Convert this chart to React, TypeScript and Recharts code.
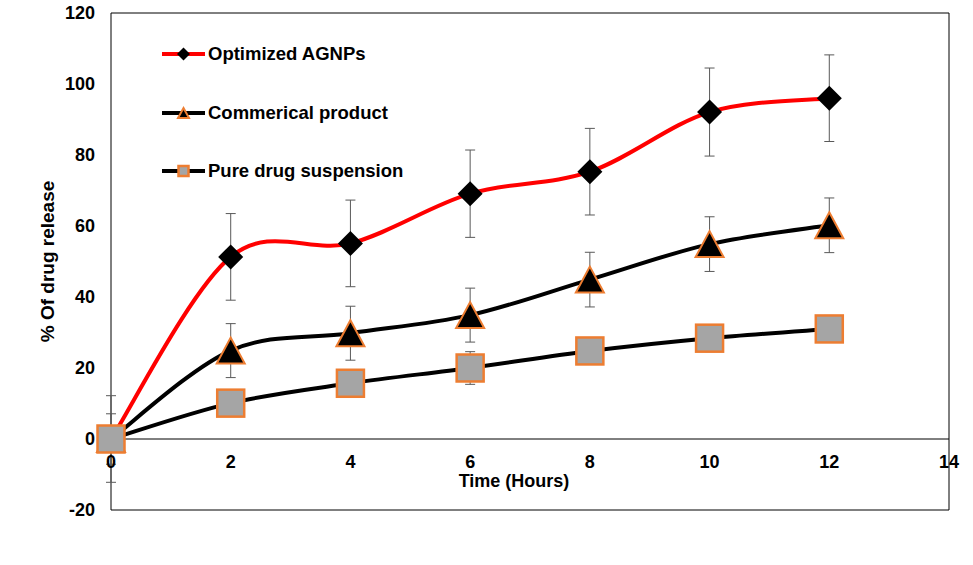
import React from 'react';
import {
  LineChart,
  Line,
  XAxis,
  YAxis,
  ErrorBar,
  Legend,
  ReferenceLine,
  ReferenceArea,
} from 'recharts';

const hours = [0, 2, 4, 6, 8, 10, 12];
const optimized = [0, 51.3, 55.1, 69.1, 75.3, 92.1, 96.0];
const optimizedErr = [12.2, 12.2, 12.2, 12.3, 12.2, 12.4, 12.2];
const commercial = [0, 24.9, 29.8, 34.9, 44.9, 54.9, 60.2];
const commercialErr = [7.1, 7.6, 7.6, 7.6, 7.7, 7.7, 7.7];
const pure = [0, 10.1, 15.7, 20.0, 24.8, 28.4, 31.0];
const pureErr = [3, 3.5, 3.8, 4.6, 3.5, 3.8, 3.8];

const xTicks = [0, 2, 4, 6, 8, 10, 12, 14];
const yTicks = [-20, 0, 20, 40, 60, 80, 100, 120];
const legendOrder = ['opt', 'com', 'pure'];

const FONT = '"Liberation Sans", Arial, sans-serif';
const ORANGE = '#ED7D31';

const data = hours.map((h, i) => ({
  hour: h,
  opt: optimized[i],
  optErr: optimizedErr[i],
  com: commercial[i],
  comErr: commercialErr[i],
  pure: pure[i],
  pureErr: pureErr[i],
}));

// excel style smoothed line (catmull-rom as bezier)
const excelSmooth = (context: any) => {
  let pts: number[][] = [];
  return {
    areaStart() {},
    areaEnd() {},
    lineStart() {
      pts = [];
    },
    point(x: number, y: number) {
      pts.push([+x, +y]);
    },
    lineEnd() {
      if (!pts.length) return;
      context.moveTo(pts[0][0], pts[0][1]);
      for (let i = 0; i < pts.length - 1; i++) {
        const p0 = pts[i - 1] || pts[i];
        const p1 = pts[i];
        const p2 = pts[i + 1];
        const p3 = pts[i + 2] || p2;
        context.bezierCurveTo(
          p1[0] + (p2[0] - p0[0]) / 6,
          p1[1] + (p2[1] - p0[1]) / 6,
          p2[0] - (p3[0] - p1[0]) / 6,
          p2[1] - (p3[1] - p1[1]) / 6,
          p2[0],
          p2[1]
        );
      }
    },
  };
};

const Diamond = ({ cx, cy, r }: { cx: number; cy: number; r: number }) => (
  <polygon points={`${cx},${cy - r} ${cx + r},${cy} ${cx},${cy + r} ${cx - r},${cy}`} fill="#000" />
);

const Triangle = ({ cx, cy, w, h }: { cx: number; cy: number; w: number; h: number }) => (
  <polygon
    points={`${cx},${cy - h / 2} ${cx + w / 2},${cy + h / 2} ${cx - w / 2},${cy + h / 2}`}
    fill="#000"
    stroke={ORANGE}
    strokeWidth={2}
  />
);

const Square = ({ cx, cy, s }: { cx: number; cy: number; s: number }) => (
  <rect x={cx - s / 2} y={cy - s / 2} width={s} height={s} fill="#A5A5A5" stroke={ORANGE} strokeWidth={2.5} />
);

const markers: Record<string, (cx: number, cy: number) => React.ReactNode> = {
  opt: (cx, cy) => <Diamond cx={cx} cy={cy} r={6.5} />,
  com: (cx, cy) => <Triangle cx={cx} cy={cy} w={11} h={10} />,
  pure: (cx, cy) => <Square cx={cx} cy={cy} s={10} />,
};

const lineColors: Record<string, string> = { opt: '#FF0000', com: '#000', pure: '#000' };

const renderLegend = (props: any) => {
  const payload = [...(props.payload || [])].sort(
    (a: any, b: any) => legendOrder.indexOf(a.dataKey) - legendOrder.indexOf(b.dataKey)
  );
  return (
    <div>
      {payload.map((entry: any) => (
        <div
          key={entry.dataKey}
          style={{ height: 58.5, display: 'flex', alignItems: 'center', fontFamily: FONT, fontWeight: 'bold', fontSize: 18.5 }}
        >
          <svg width={43} height={30} style={{ marginRight: 3 }}>
            <line x1={0} y1={15} x2={43} y2={15} stroke={lineColors[entry.dataKey]} strokeWidth={4} />
            {markers[entry.dataKey](21.5, 15)}
          </svg>
          <span>{entry.value}</span>
        </div>
      ))}
    </div>
  );
};

const App: React.FC = () => {
  const tickStyle = { fill: '#000', fontSize: 18, fontWeight: 'bold', fontFamily: FONT };
  return (
    <div style={{ position: 'absolute', left: 0, top: 0, width: 973, height: 565 }}>
      <LineChart width={973} height={565} data={data} margin={{ top: 13, right: 24, left: 0, bottom: 25 }}>
        <XAxis
          type="number"
          dataKey="hour"
          domain={[0, 14]}
          ticks={xTicks}
          axisLine={false}
          tickLine={false}
          tickSize={0}
          tickMargin={0}
          height={30}
          interval={0}
          tick={{ ...tickStyle, dy: -55 }}
          label={{ value: 'Time (Hours)', position: 'center', dx: -16, dy: -44, style: { ...tickStyle } }}
        />
        <YAxis
          type="number"
          domain={[-20, 120]}
          ticks={yTicks}
          width={111}
          axisLine={false}
          tickLine={false}
          tickMargin={10}
          interval={0}
          tick={tickStyle}
          label={{
            value: '% Of drug release',
            angle: -90,
            position: 'center',
            dx: -8,
            style: { ...tickStyle, fontSize: 19 },
          }}
        />
        <ReferenceArea x1={0} x2={14} y1={-20} y2={120} fill="#fff" fillOpacity={0} stroke="#000" strokeWidth={1} />
        <ReferenceLine y={0} stroke="#000" strokeWidth={1} />
        <Legend
          layout="vertical"
          align="center"
          verticalAlign="middle"
          content={renderLegend}
          wrapperStyle={{ left: 162, top: 25, width: 320 }}
        />
        <Line
          name="Optimized AGNPs"
          dataKey="opt"
          type={excelSmooth as any}
          stroke="#FF0000"
          strokeWidth={4}
          isAnimationActive={false}
          dot={(p: any) => <Diamond key={`o${p.index}`} cx={p.cx} cy={p.cy} r={12.5} />}
          activeDot={false}
        >
          <ErrorBar dataKey="optErr" width={5} strokeWidth={1} stroke="#595959" direction="y" />
        </Line>
        <Line
          name="Commerical product"
          dataKey="com"
          type={excelSmooth as any}
          stroke="#000"
          strokeWidth={4}
          isAnimationActive={false}
          dot={(p: any) => <Triangle key={`c${p.index}`} cx={p.cx} cy={p.cy} w={28} h={26} />}
          activeDot={false}
        >
          <ErrorBar dataKey="comErr" width={5} strokeWidth={1} stroke="#595959" direction="y" />
        </Line>
        <Line
          name="Pure drug suspension"
          dataKey="pure"
          type={excelSmooth as any}
          stroke="#000"
          strokeWidth={4}
          isAnimationActive={false}
          dot={(p: any) => <Square key={`p${p.index}`} cx={p.cx} cy={p.cy} s={27} />}
          activeDot={false}
        >
          <ErrorBar dataKey="pureErr" width={5} strokeWidth={1} stroke="#595959" direction="y" />
        </Line>
      </LineChart>
    </div>
  );
};

export default App;
